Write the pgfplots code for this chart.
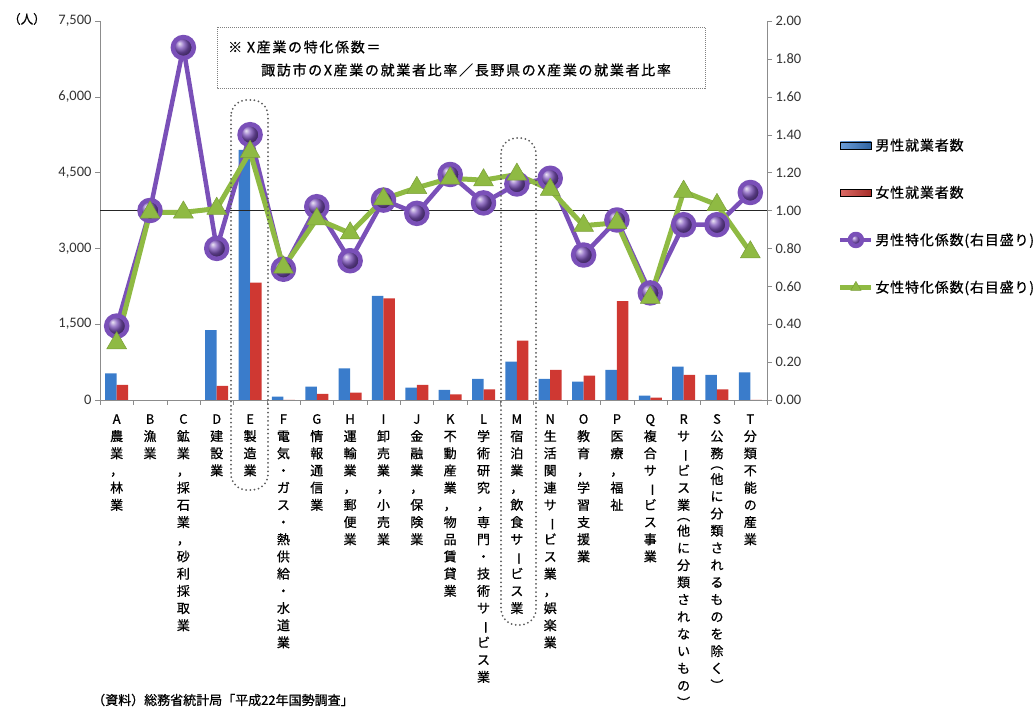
\documentclass[border=0pt]{standalone}
\usepackage{fontspec}
\setmainfont{Noto Sans CJK JP}[FakeBold=0.7]
\newfontfamily\numfont{Carlito}
\usepackage{pgfplots}
\pgfplotsset{compat=1.18}
\usetikzlibrary{plotmarks}

\definecolor{barBlue}{HTML}{3A7CCB}
\definecolor{barRed}{HTML}{CF3832}
\definecolor{purpleLine}{HTML}{7A50B8}
\definecolor{greenLine}{HTML}{8FBA43}
\definecolor{axisGray}{HTML}{8C8C8C}

% vertical (tategaki) stacking of tick-label characters
\protected\def\vbr{\rotatebox[origin=c]{-90}{ー}}
\protected\def\vlp{\rotatebox[origin=c]{-90}{（}}
\protected\def\vrp{\rotatebox[origin=c]{-90}{）}}
\makeatletter
\def\vt@end{\vt@end}
\protected\def\vt#1{\vbox{\offinterlineskip\vt@loop#1\vt@end}}
\def\vt@loop#1{%
  \ifx\vt@end#1\else
    \ifx\vlp#1\vt@half{2pt}{#1}\else
      \ifx\vrp#1\vt@half{-4.5pt}{#1}\else
        \vt@cell{#1}\fi\fi
    \expandafter\vt@loop\fi}
\def\vt@cell#1{\hbox to 16pt{\hss\vrule height 12.6pt depth 4.6pt width 0pt\relax #1\hss}}
\def\vt@half#1#2{\hbox to 16pt{\hss\vrule height 8pt depth 0.6pt width 0pt\relax
  \smash{\raisebox{#1}{#2}}\hss}}
\makeatother

\pgfplotstableread{
x  male  female
0  528   297
3  1385  277
4  4950  2322
5  65    0
6  263   119
7  627   145
8  2058  2012
9  243   297
10 198   112
11 416   211
12 758   1174
13 416   594
14 363   481
15 594   1959
16 86    46
17 659   495
18 495   211
19 547   0
}\workers

\pgfplotstableread{
x  male   female
0  0.39   0.30
1  1.00   0.99
2  1.86   0.99
3  0.80   1.01
4  1.40   1.31
5  0.69   0.70
6  1.02   0.955
7  0.735  0.88
8  1.055  1.06
9  0.985  1.12
10 1.19   1.17
11 1.04   1.16
12 1.14   1.19
13 1.17   1.11
14 0.765  0.92
15 0.95   0.935
16 0.565  0.54
17 0.925  1.10
18 0.925  1.03
19 1.095  0.78
}\coef

\begin{document}
\begin{tikzpicture}
\pgfplotsset{
  base/.style={
    at={(100pt,311pt)}, anchor=south west, scale only axis,
    width=667pt, height=379pt,
    xmin=-0.5, xmax=19.5,
    axis line style={axisGray, -}, tick style={axisGray},
    tick align=outside, major tick length=5pt,
    clip=false,
    /pgf/number format/assume math mode=true,
    yticklabel style={font=\numfont\fontsize{14.5}{16}\selectfont, text=black!80},
  }
}
% counts of workers (left axis)
\begin{axis}[base,
  ymin=0, ymax=7500,
  axis y line*=left, axis x line*=bottom,
  ytick={0,1500,3000,4500,6000,7500},
  scaled y ticks=false,
  /pgf/number format/1000 sep={,},
  xtick={-0.5,0.5,...,19.5},
  x tick label as interval,
  xticklabel style={font=\fontsize{13}{16}\selectfont, anchor=north, inner sep=0pt, yshift=-6pt},
  xticklabels={
    {\vt{A農業，林業}},
    {\vt{B漁業}},
    {\vt{C鉱業，採石業，砂利採取業}},
    {\vt{D建設業}},
    {\vt{E製造業}},
    {\vt{F電気・ガス・熱供給・水道業}},
    {\vt{G情報通信業}},
    {\vt{H運輸業，郵便業}},
    {\vt{I卸売業，小売業}},
    {\vt{J金融業，保険業}},
    {\vt{K不動産業，物品賃貸業}},
    {\vt{L学術研究，専門・技術サ\vbr ビス業}},
    {\vt{M宿泊業，飲食サ\vbr ビス業}},
    {\vt{N生活関連サ\vbr ビス業，娯楽業}},
    {\vt{O教育，学習支援業}},
    {\vt{P医療，福祉}},
    {\vt{Q複合サ\vbr ビス事業}},
    {\vt{Rサ\vbr ビス業\vlp 他に分類されないもの\vrp}},
    {\vt{S公務\vlp 他に分類されるものを除く\vrp}},
    {\vt{T分類不能の産業}},
  },
  ybar=0pt, bar width=11.5pt,
]
\addplot[draw=none, fill=barBlue] table[x=x, y=male] {\workers};
\addplot[draw=none, fill=barRed] table[x=x, y=female] {\workers};
\end{axis}

% specialization coefficients (right axis)
\begin{axis}[base,
  ymin=0, ymax=2,
  axis y line*=right, axis x line=none,
  ytick={0,0.2,0.4,0.6,0.8,1.0,1.2,1.4,1.6,1.8,2.0},
  yticklabel style={/pgf/number format/.cd, fixed, fixed zerofill, precision=2},
  legend style={at={(1.106,0.694)}, anchor=north west, draw=none, fill=none,
    inner sep=0pt, row sep=31pt,
    font=\fontsize{14}{16}\selectfont\addfontfeature{LetterSpace=6},
    nodes={inner sep=1.5pt}},
  legend cell align=left,
  legend image code/.code={
    \draw[mark repeat=2, mark phase=2, #1, mark size=6pt]
      plot coordinates {(0pt,0pt) (15.5pt,0pt) (31pt,0pt)};},
]
\addplot[black!85, line width=0.8pt, forget plot] coordinates {(-0.5,1) (19.5,1)};
\addlegendimage{legend image code/.code={\fill[left color=barBlue!75!white, right color=barBlue!80!black] (0pt,-3.5pt) rectangle (31pt,3.5pt);}}
\addlegendentry{男性就業者数}
\addlegendimage{legend image code/.code={\fill[left color=barRed!75!white, right color=barRed!80!black] (0pt,-3.5pt) rectangle (31pt,3.5pt);}}
\addlegendentry{女性就業者数}
\addplot[purpleLine, line width=4.5pt, line join=round,
  mark=ball, mark size=10.5pt, mark options={ball color=purpleLine}]
  table[x=x, y=male] {\coef};
\addlegendentry{男性特化係数(右目盛り)}
\addplot[greenLine, line width=5pt, line join=round,
  mark=triangle*, mark size=11.5pt, mark options={line width=0.5pt, fill=greenLine, draw=greenLine!85!black}]
  table[x=x, y=female] {\coef};
\addlegendentry{女性特化係数(右目盛り)}
\end{axis}

% annotations, in page pixel coordinates measured from the top-left corner
\begin{scope}[x=1pt, y=-1pt, shift={(0pt,711pt)}]
  \node[anchor=west, inner sep=0pt, font=\fontsize{12.5}{14}\selectfont] at (8,19) {（人）};
  \draw[gray, line width=0.6pt, dash pattern=on 1pt off 1pt] (217,27) rectangle (705,88);
  \node[anchor=west, inner sep=0pt, font=\fontsize{14}{16}\selectfont\addfontfeature{LetterSpace=12}] at (228,47) {※ X産業の特化係数＝};
  \node[anchor=west, inner sep=0pt, font=\fontsize{14}{16}\selectfont\addfontfeature{LetterSpace=12}] at (261,70) {諏訪市のX産業の就業者比率／長野県のX産業の就業者比率};
  \draw[black!65, line width=2pt, dash pattern=on 0pt off 4.2pt, line cap=round, rounded corners=16pt] (231,100) rectangle (268,490);
  \draw[black!65, line width=2pt, dash pattern=on 0pt off 4.2pt, line cap=round, rounded corners=16pt] (501,138) rectangle (536,625);
  \node[anchor=west, inner sep=0pt, font=\fontsize{13}{15}\selectfont] at (92,700) {（資料）総務省統計局「平成22年国勢調査」};
\end{scope}
\pgfresetboundingbox
\path (0,0) rectangle (1034pt,711pt);
\end{tikzpicture}
\end{document}
